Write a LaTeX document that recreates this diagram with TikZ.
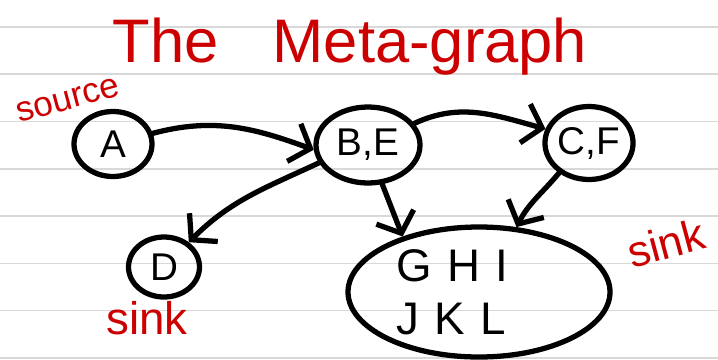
\documentclass[tikz,border=0pt]{standalone}
\usepackage{fontspec}
\setmainfont{Liberation Sans}
\usetikzlibrary{shapes.geometric,arrows.meta}
\definecolor{stylo}{RGB}{204,0,0}
\definecolor{reglure}{RGB}{217,217,217}
\tikzstyle{sommet} = [ellipse, draw=black, line width=3pt, inner sep=0pt, font=\fontsize{22}{26}\selectfont]
\tikzstyle{annotation} = [text=stylo, inner sep=0pt]
\tikzstyle{fleche} = [->, line width=3pt, line cap=round]

\begin{document}
\begin{tikzpicture}[>={Straight Barb[length=3.5mm,width=8mm]}]
                \useasboundingbox (0,0) rectangle (14.36,7.18);
                \foreach \k in {0,...,7}
                    \draw[reglure, line width=0.8pt] (0,0.02+0.946*\k) -- (14.36,0.02+0.946*\k);

                \node [annotation, anchor=base, font=\fontsize{35}{40}\selectfont] (titre) at (7.0,5.94) {The\hspace{0.6em} Meta-graph};
                \node [annotation, rotate=15, font=\fontsize{20}{24}\selectfont] (source) at (1.36,5.18) {source};

                \node [sommet, minimum width=1.56cm, minimum height=1.30cm] (A) at (2.26,4.30) {A};
                \node [sommet, minimum width=2.08cm, minimum height=1.52cm] (BE) at (7.36,4.28) {B,E};
                \node [sommet, minimum width=1.72cm, minimum height=1.46cm] (CF) at (11.78,4.32) {C,F};
                \node [sommet, minimum width=1.42cm, minimum height=1.20cm] (D) at (3.28,1.84) {D};
                \node [sommet, minimum width=5.24cm, minimum height=2.60cm, align=left, text width=3.3cm, font=\fontsize{26}{30}\selectfont] (GJ) at (9.58,1.34) {G H I\\J K L};

                \node [annotation, font=\fontsize{26}{30}\selectfont] (puitsD) at (2.94,0.82) {sink};
                \node [annotation, rotate=15, font=\fontsize{25}{30}\selectfont] (puitsGJ) at (13.32,2.32) {sink};

                \draw[fleche] (A.15) to[out=15,in=160] (BE.185);
                \draw[fleche] (BE.25) to[out=25,in=165] (CF.162);
                \draw[fleche] (BE.200) to[out=205,in=45] (D.45);
                \draw[fleche] (BE.-70) -- (GJ.144);
                \draw[fleche] (CF.225) to[out=230,in=63] (GJ.60);
            \end{tikzpicture}
\end{document}
